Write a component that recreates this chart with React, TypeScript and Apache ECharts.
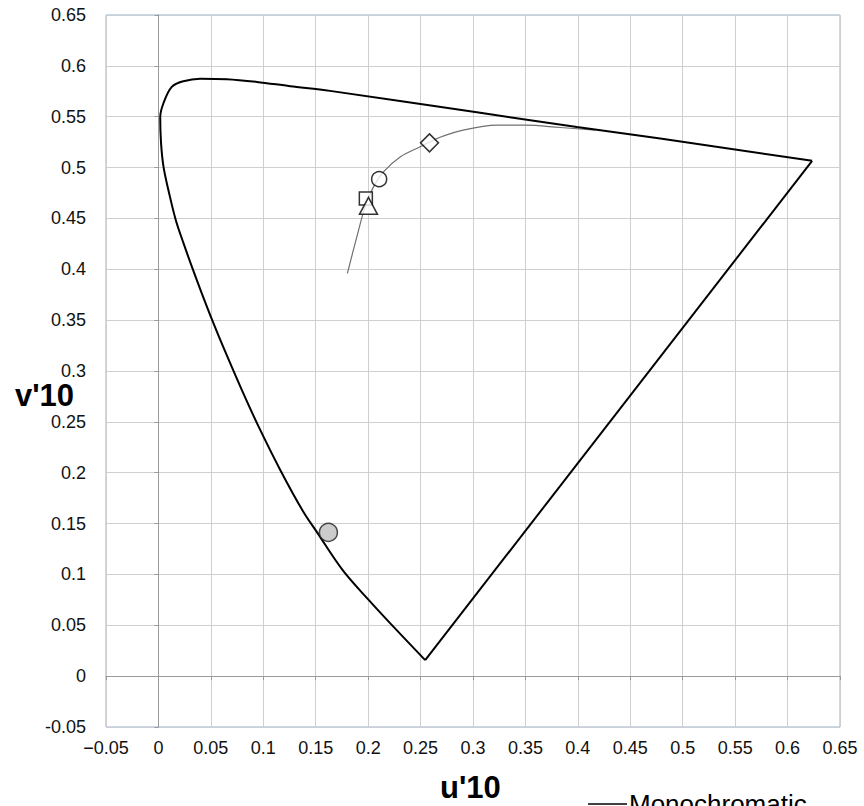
import React, { useEffect, useRef } from "react";
import * as echarts from "echarts";

// Spectral locus (monochromatic) u'10, v'10, from the short-wave end to 700 nm
const locusU = [0.2544, 0.2209, 0.2007, 0.1757, 0.1518, 0.1373, 0.1163, 0.0958, 0.0796, 0.0619, 0.0513, 0.0402, 0.0331, 0.0239, 0.0166, 0.0102, 0.0049, 0.0025, 0.0017, 0.0047, 0.0127, 0.0238, 0.0397, 0.0652, 0.0938, 0.1256, 0.1637, 0.3069, 0.3991, 0.4786, 0.6234];
const locusV = [0.0157, 0.0521, 0.0747, 0.1042, 0.1406, 0.1632, 0.2025, 0.2448, 0.2812, 0.3234, 0.35, 0.3795, 0.3991, 0.4257, 0.4483, 0.4748, 0.5004, 0.524, 0.5495, 0.563, 0.5793, 0.5849, 0.5874, 0.5869, 0.5842, 0.58, 0.5754, 0.5538, 0.54, 0.5286, 0.5066];

// Purple line closing the locus (700 nm back to the short-wave end)
const purpleU = [0.6234, 0.2544];
const purpleV = [0.5066, 0.0157];

// Thin grey curve (blackbody locus)
const planckU = [0.1802, 0.1892, 0.1971, 0.2051, 0.2146, 0.2305, 0.2496, 0.2656, 0.2878, 0.3228, 0.3498, 0.3832, 0.4166];
const planckV = [0.3959, 0.4319, 0.4614, 0.481, 0.4958, 0.5105, 0.5204, 0.5286, 0.5361, 0.5417, 0.5417, 0.5394, 0.5368];

// Markers
const diamondPt = [0.2585, 0.5243];
const circlePt = [0.2105, 0.4886];
const squarePt = [0.1978, 0.4696];
const trianglePt = [0.2003, 0.4624];
const greyDotPt = [0.1621, 0.1413];

const axisMin = -0.05;
const axisMax = 0.65;
const axisStep = 0.05;

const FONT = "'Liberation Sans', Arial, sans-serif";

const zip = (a: number[], b: number[]) => a.map((v, i) => [v, b[i]]);
const fmt = (v: number) => String(Math.round(v * 100) / 100);

export default function App() {
  const ref = useRef<HTMLDivElement>(null);
  useEffect(() => {
    if (!ref.current) return;
    const chart = echarts.init(ref.current, null, { renderer: "svg" });
    const markerStyle = { color: "#ffffff", borderColor: "#000000", borderWidth: 1.5 };
    const baseAxis = {
      type: "value" as const,
      min: axisMin,
      max: axisMax,
      interval: axisStep,
    };
    chart.setOption({
      animation: false,
      backgroundColor: "#ffffff",
      grid: {
        left: 106,
        right: 24,
        top: 15,
        bottom: 79,
        show: true,
        borderColor: "#8db3e2",
        borderWidth: 1,
        backgroundColor: "transparent",
      },
      xAxis: [
        {
          ...baseAxis,
          position: "bottom",
          axisLine: { show: false, onZero: false },
          axisTick: { show: false },
          splitLine: { show: true, lineStyle: { color: "#cfcfcf", width: 1 } },
          axisLabel: {
            fontSize: 18,
            fontFamily: FONT,
            color: "#111",
            margin: 12,
            formatter: (v: number) => fmt(v).replace("-", "\u2212"),
          },
        },
        {
          ...baseAxis,
          position: "bottom",
          axisLine: { show: true, onZero: true, lineStyle: { color: "#9a9a9a", width: 1 } },
          axisTick: { show: true, length: 4, lineStyle: { color: "#9a9a9a" } },
          splitLine: { show: false },
          axisLabel: { show: false },
        },
      ],
      yAxis: [
        {
          ...baseAxis,
          position: "left",
          axisLine: { show: false, onZero: false },
          axisTick: { show: false },
          splitLine: { show: true, lineStyle: { color: "#cfcfcf", width: 1 } },
          axisLabel: {
            fontSize: 18,
            fontFamily: FONT,
            color: "#111",
            margin: 20,
            formatter: (v: number) => fmt(v),
          },
        },
        {
          ...baseAxis,
          position: "left",
          axisLine: { show: true, onZero: true, lineStyle: { color: "#9a9a9a", width: 1 } },
          axisTick: { show: true, length: 4, lineStyle: { color: "#9a9a9a" } },
          splitLine: { show: false },
          axisLabel: { show: false },
        },
      ],
      legend: {
        data: [{ name: "Monochromatic", icon: "rect" }],
        left: 588,
        top: 791,
        padding: 0,
        itemWidth: 39,
        itemHeight: 1.5,
        itemGap: 4,
        itemStyle: { color: "#000", borderWidth: 0 },
        textStyle: { fontSize: 26, fontFamily: FONT, color: "#000", padding: [0, 0, 0, -3] },
      },
      graphic: [
        {
          type: "text",
          left: 15,
          top: 380,
          style: { text: "v'10", font: `bold 31px ${FONT}`, fill: "#000" },
        },
        {
          type: "text",
          left: 440,
          top: 772,
          style: { text: "u'10", font: `bold 31px ${FONT}`, fill: "#000" },
        },
      ],
      series: [
        {
          name: "Monochromatic",
          type: "line",
          data: zip(locusU, locusV),
          symbol: "none",
          smooth: 0.35,
          lineStyle: { color: "#000", width: 2 },
          itemStyle: { color: "#000" },
          z: 3,
        },
        {
          name: "Monochromatic",
          type: "line",
          data: zip(purpleU, purpleV),
          symbol: "none",
          lineStyle: { color: "#000", width: 2 },
          itemStyle: { color: "#000" },
          z: 3,
        },
        {
          name: "Blackbody",
          type: "line",
          data: zip(planckU, planckV),
          symbol: "none",
          smooth: 0.35,
          lineStyle: { color: "#707070", width: 1.2 },
          z: 2,
        },
        {
          name: "Diamond",
          type: "scatter",
          data: [diamondPt],
          symbol: "diamond",
          symbolSize: 18,
          itemStyle: markerStyle,
          z: 4,
        },
        {
          name: "Circle",
          type: "scatter",
          data: [circlePt],
          symbol: "circle",
          symbolSize: 15,
          itemStyle: markerStyle,
          z: 4,
        },
        {
          name: "Square",
          type: "scatter",
          data: [squarePt],
          symbol: "rect",
          symbolSize: 13,
          itemStyle: markerStyle,
          z: 4,
        },
        {
          name: "Triangle",
          type: "scatter",
          data: [trianglePt],
          symbol: "triangle",
          symbolSize: [18, 17],
          itemStyle: markerStyle,
          z: 4,
        },
        {
          name: "Grey",
          type: "scatter",
          data: [greyDotPt],
          symbol: "circle",
          symbolSize: 18,
          itemStyle: { color: "#bfbfbf", borderColor: "#222", borderWidth: 1.5 },
          z: 4,
        },
      ],
    });
    return () => chart.dispose();
  }, []);
  return (
    <div
      ref={ref}
      style={{ position: "fixed", left: 0, top: 0, width: 864, height: 806, background: "#fff" }}
    />
  );
}
